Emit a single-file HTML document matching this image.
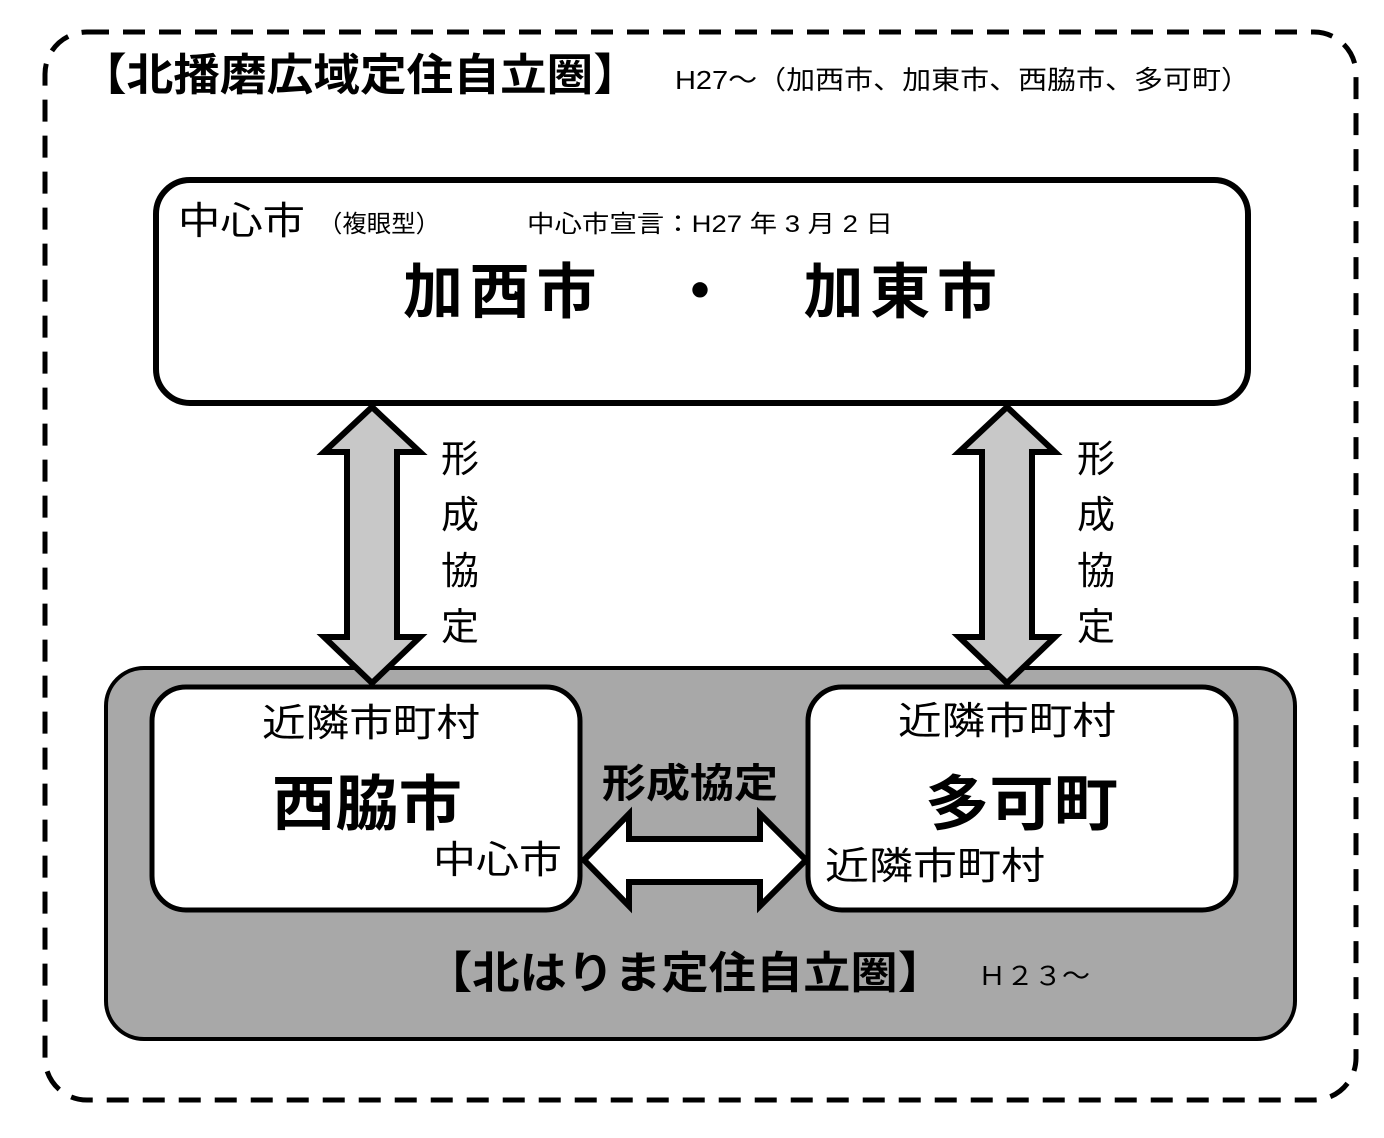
<!DOCTYPE html>
<html><head><meta charset="utf-8"><style>
body{margin:0;width:1384px;height:1133px;background:#fff;overflow:hidden;font-family:"Liberation Sans","Noto Sans CJK JP",sans-serif;}
svg text{font-family:"Liberation Sans","Noto Sans CJK JP",sans-serif;fill:#000;}
</style></head><body>
<svg width="1384" height="1133" viewBox="0 0 1384 1133">
<rect x="45" y="32" width="1311" height="1068" rx="42" fill="none" stroke="#000" stroke-width="5" stroke-dasharray="22,14"/>
<text x="80" y="90" font-size="44" font-weight="bold" textLength="560" lengthAdjust="spacingAndGlyphs">【北播磨広域定住自立圏】</text>
<text x="675" y="89" font-size="26" textLength="575" lengthAdjust="spacingAndGlyphs">H27～（加西市、加東市、西脇市、多可町）</text>
<rect x="156" y="180" width="1092" height="223" rx="34" fill="#fff" stroke="#000" stroke-width="6"/>
<text x="178" y="234" font-size="38" textLength="127" lengthAdjust="spacingAndGlyphs">中心市</text>
<text x="318" y="232" font-size="24" textLength="122" lengthAdjust="spacingAndGlyphs">（複眼型）</text>
<text x="527" y="232" font-size="24" textLength="366" lengthAdjust="spacingAndGlyphs">中心市宣言：H27 年 3 月 2 日</text>
<text x="403" y="313" font-size="60" font-weight="bold" textLength="594" lengthAdjust="spacing" xml:space="preserve">加西市　・　加東市</text>
<rect x="106" y="668" width="1189" height="371" rx="38" fill="#a8a8a8" stroke="#000" stroke-width="4"/>
<polygon points="372,407 420,452 397,452 397,637 420,637 372,683 324,637 347,637 347,452 324,452" fill="#c8c8c8" stroke="#000" stroke-width="6"/>
<polygon points="1007,407 1055,452 1032,452 1032,637 1055,637 1007,683 959,637 982,637 982,452 959,452" fill="#c8c8c8" stroke="#000" stroke-width="6"/>
<g font-size="38" text-anchor="middle">
<text x="460" y="472">形</text><text x="460" y="528">成</text><text x="460" y="584">協</text><text x="460" y="640">定</text>
<text x="1096" y="472">形</text><text x="1096" y="528">成</text><text x="1096" y="584">協</text><text x="1096" y="640">定</text>
</g>
<rect x="152" y="687" width="428" height="223" rx="34" fill="#fff" stroke="#000" stroke-width="5"/>
<rect x="808" y="687" width="428" height="223" rx="34" fill="#fff" stroke="#000" stroke-width="5"/>
<polygon points="584,860 629,814 629,839 760,839 760,814 806,860 760,906 760,882 629,882 629,906" fill="#fff" stroke="#000" stroke-width="6"/>
<text x="262" y="736" font-size="38" textLength="218" lengthAdjust="spacingAndGlyphs">近隣市町村</text>
<text x="272" y="825" font-size="60" font-weight="bold" textLength="190" lengthAdjust="spacingAndGlyphs">西脇市</text>
<text x="433" y="873" font-size="38" textLength="129" lengthAdjust="spacingAndGlyphs">中心市</text>
<text x="602" y="797" font-size="40" font-weight="bold" textLength="176" lengthAdjust="spacingAndGlyphs">形成協定</text>
<text x="898" y="734" font-size="38" textLength="218" lengthAdjust="spacingAndGlyphs">近隣市町村</text>
<text x="925" y="825" font-size="60" font-weight="bold" textLength="193" lengthAdjust="spacingAndGlyphs">多可町</text>
<text x="825" y="879" font-size="38" textLength="220" lengthAdjust="spacingAndGlyphs">近隣市町村</text>
<text x="425" y="988" font-size="44" font-weight="bold" textLength="520" lengthAdjust="spacingAndGlyphs">【北はりま定住自立圏】</text>
<text x="978" y="985" font-size="26" textLength="112" lengthAdjust="spacingAndGlyphs">Ｈ２３～</text>
</svg>
</body></html>
